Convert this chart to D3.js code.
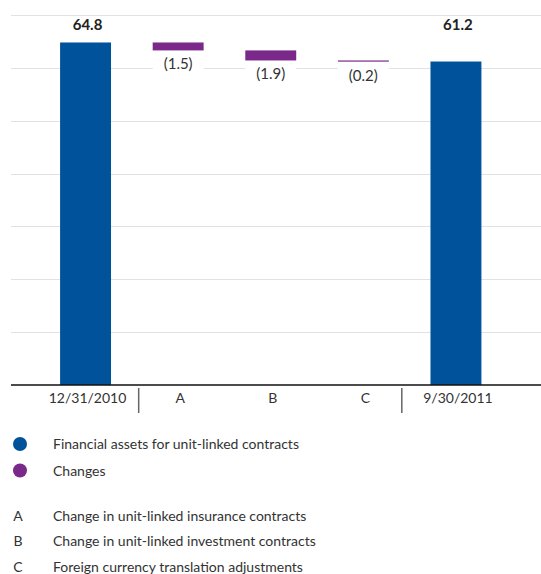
<!DOCTYPE html>
<html>
<head>
<meta charset="utf-8">
<script src="https://cdn.jsdelivr.net/npm/d3@7"></script>
<style>
  html, body { margin: 0; padding: 0; background: #fff; }
  svg { display: block; }
  text { font-family: Lato, "Open Sans", sans-serif; }
</style>
</head>
<body>
<div id="chart"></div>
<script>
// ---- data ----
const categories = ["12/31/2010", "A", "B", "C", "9/30/2011"];
const startValue = 64.8;
const changes = [-1.5, -1.9, -0.2];
const endValue = 61.2;
const yTicks = [10, 20, 30, 40, 50, 60, 70];
const legendItems = ["Financial assets for unit-linked contracts", "Changes"];
const noteKeys = ["A", "B", "C"];
const noteTexts = ["Change in unit-linked insurance contracts", "Change in unit-linked investment contracts", "Foreign currency translation adjustments"];

const W = 541, H = 574;
const blue = "#00529b", purple = "#7a288a", textCol = "#333";

const svg = d3.select("#chart").append("svg").attr("width", W).attr("height", H);

const y = d3.scaleLinear().domain([0, 70]).range([385, 15]);
const x = d3.scaleBand().domain(categories).range([39.25, 502.25]).paddingInner(0.45).paddingOuter(0.225);
const bw = x.bandwidth();

// gridlines
svg.append("g").selectAll("line").data(yTicks).join("line")
  .attr("x1", 11).attr("x2", W)
  .attr("y1", d => Math.round(y(d)) + 0.5).attr("y2", d => Math.round(y(d)) + 0.5)
  .attr("stroke", "#e2e2e2").attr("stroke-width", 1.2);

// build waterfall segments
const segs = [];
segs.push({cat: categories[0], y0: 0, y1: startValue, type: "total", v: startValue});
let run = startValue;
changes.forEach((c, i) => {
  segs.push({cat: categories[i + 1], y0: run + c, y1: run, type: "change", v: c});
  run += c;
});
segs.push({cat: categories[4], y0: 0, y1: endValue, type: "total", v: endValue});

// white label backgrounds under change bars (interrupt gridlines)
const changeSegs = segs.filter(s => s.type === "change");
svg.append("g").selectAll("rect").data(changeSegs).join("rect")
  .attr("x", d => x(d.cat)).attr("width", bw)
  .attr("y", d => y(d.y0)).attr("height", 22)
  .attr("fill", "#fff");

// bars
svg.append("g").selectAll("rect").data(segs).join("rect")
  .attr("x", d => x(d.cat)).attr("width", bw)
  .attr("y", d => y(d.y1)).attr("height", d => Math.max(1.2, y(d.y0) - y(d.y1)))
  .attr("fill", d => d.type === "total" ? blue : purple);

// baseline
svg.append("line").attr("x1", 11).attr("x2", W).attr("y1", y(0)).attr("y2", y(0))
  .attr("stroke", "#111").attr("stroke-width", 1.5);

// total labels
const topY = y(startValue) - 12;
svg.append("g").selectAll("text").data(segs.filter(s => s.type === "total")).join("text")
  .attr("x", d => x(d.cat) + bw / 2 + 2).attr("y", topY)
  .attr("text-anchor", "middle").attr("font-size", 15).attr("font-weight", "bold").attr("fill", "#222")
  .text(d => d3.format(".1f")(d.v));

// change labels
svg.append("g").selectAll("text").data(changeSegs).join("text")
  .attr("x", d => x(d.cat) + bw / 2).attr("y", d => y(d.y0) + 19)
  .attr("text-anchor", "middle").attr("font-size", 15).attr("fill", textCol)
  .text(d => "(" + d3.format(".1f")(Math.abs(d.v)) + ")");

// x axis labels
svg.append("g").selectAll("text").data(categories).join("text")
  .attr("x", d => x(d) + bw / 2 + 2).attr("y", 403)
  .attr("text-anchor", "middle").attr("font-size", 14).attr("fill", textCol)
  .text(d => d);

// separators
const seps = [x(categories[1]) - 14, x(categories[3]) + bw + 13];
svg.append("g").selectAll("line").data(seps).join("line")
  .attr("x1", d => d).attr("x2", d => d).attr("y1", 388).attr("y2", 413)
  .attr("stroke", "#666").attr("stroke-width", 1.5);

// legend
const legColors = [blue, purple];
const lg = svg.append("g");
legendItems.forEach((t, i) => {
  const cy = 444 + i * 26.5;
  lg.append("circle").attr("cx", 20).attr("cy", cy).attr("r", 7).attr("fill", legColors[i]);
  lg.append("text").attr("x", 53).attr("y", cy + 5).attr("font-size", 14).attr("fill", textCol).text(t);
});

// notes
noteKeys.forEach((k, i) => {
  const cy = 515.5 + i * 25.5;
  lg.append("text").attr("x", 18).attr("y", cy + 5).attr("text-anchor", "middle").attr("font-size", 14).attr("fill", textCol).text(k);
  lg.append("text").attr("x", 53).attr("y", cy + 5).attr("font-size", 14).attr("fill", textCol).text(noteTexts[i]);
});
</script>
</body>
</html>
